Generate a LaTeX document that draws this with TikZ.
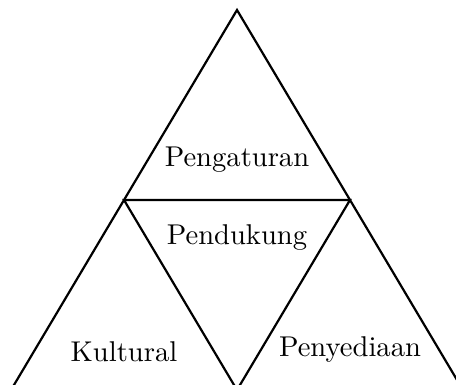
\documentclass[tikz,border=0pt]{standalone}
\usepackage{tikz}
\usetikzlibrary{positioning}

\tikzset{
  segi/.style={draw, thick, line join=miter},
  label text/.style={font=\fontsize{10.4pt}{12pt}\selectfont, inner sep=0pt}
}

\begin{document}
\begin{tikzpicture}[x=0.3636pt, y=-0.3636pt]
      \useasboundingbox (0,0) rectangle (456,385);
      \clip (0,0) rectangle (456,385);
      % titik sudut
      \coordinate (apex) at (237,10);
      \coordinate (midL) at (124,200);
      \coordinate (midR) at (350,200);
      \coordinate (botL) at (11,390);
      \coordinate (botM) at (237,390);
      \coordinate (botR) at (463,390);
      % segitiga
      \draw[segi] (botL) -- (apex) -- (botR);
      \draw[segi] (midL) -- (midR) -- (botM) -- cycle;
      % label
      \node[label text] (atur) at (237,160) {Pengaturan};
      \node[label text] (dukung) at (237,238) {Pendukung};
      \node[label text] (kultur) at (124,352) {Kultural};
      \node[label text] (sedia) at (350,350) {Penyediaan};
    \end{tikzpicture}
\end{document}
